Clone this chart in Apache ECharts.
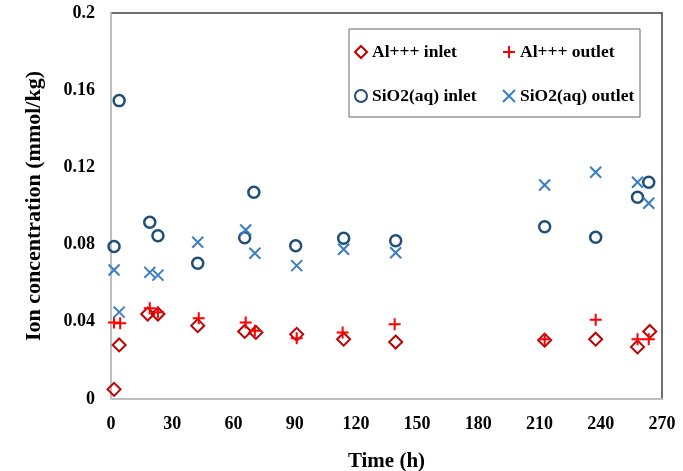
<!DOCTYPE html>
<html><head><meta charset="utf-8">
<script src="https://cdn.jsdelivr.net/npm/echarts@6/dist/echarts.min.js"></script>
<style>html,body{margin:0;padding:0;background:#fff}#c{width:683px;height:471px}</style>
</head><body><div id="c"></div>
<script>
const alInletT  = [1.5, 4, 18, 23, 42.5, 65.5, 71, 91, 114, 139.5, 212.5, 237.5, 258, 264];
const alInletV  = [0.005, 0.028, 0.044, 0.044, 0.038, 0.035, 0.0345, 0.0335, 0.031, 0.0295, 0.0305, 0.031, 0.027, 0.035];
const alOutletT = [1.5, 4.5, 19, 23, 43, 66, 70.5, 91, 113.5, 139, 212.5, 237.5, 258, 263.5];
const alOutletV = [0.0397, 0.0392, 0.047, 0.045, 0.0418, 0.0397, 0.0354, 0.0315, 0.0344, 0.0387, 0.031, 0.041, 0.031, 0.031];
const siInletT  = [1.5, 4, 19, 23, 42.5, 65.5, 70, 90.5, 114, 139.5, 212.5, 237.5, 258, 263.5];
const siInletV  = [0.079, 0.1546, 0.0916, 0.0846, 0.0703, 0.0836, 0.1071, 0.0794, 0.0833, 0.082, 0.0893, 0.0838, 0.1045, 0.1123];
const siOutletT = [1.5, 4, 19, 23, 42.5, 66, 70.5, 91, 114, 139.5, 212.5, 237.5, 258, 263.5];
const siOutletV = [0.0668, 0.045, 0.0656, 0.0642, 0.0812, 0.0876, 0.0755, 0.0691, 0.0776, 0.0758, 0.1109, 0.1175, 0.1123, 0.1014];
const seriesNames = ['Al+++ inlet', 'Al+++ outlet', 'SiO2(aq) inlet', 'SiO2(aq) outlet'];

const zip = (t, v) => t.map((x, i) => [x, v[i]]);
const FONT = '"Liberation Serif", "Times New Roman", serif';
const PLUS = 'path://M5,0L5,10M0,5L10,5';
const CROSS = 'path://M0,0L10,10M10,0L0,10';
const styles = [
  {symbol: 'diamond', size: 13, color: '#C00000', bw: 2},
  {symbol: PLUS, size: 12, color: '#FF0000', bw: 2},
  {symbol: 'circle', size: 11, color: '#1F4E79', bw: 2.5},
  {symbol: CROSS, size: 11, color: '#3A7DC4', bw: 2}
];
const datas = [zip(alInletT, alInletV), zip(alOutletT, alOutletV), zip(siInletT, siInletV), zip(siOutletT, siOutletV)];

const legendItem = i => ({
  name: seriesNames[i], icon: styles[i].symbol,
  itemStyle: {color: 'rgba(0,0,0,0)', borderColor: styles[i].color, borderWidth: 2}
});
const legendText = {fontFamily: FONT, fontWeight: 'bold', fontSize: 17.5, color: '#000'};

const chart = echarts.init(document.getElementById('c'));
chart.setOption({
  animation: false,
  grid: {left: 111, top: 13, right: 21, bottom: 72, outerBoundsMode: 'none', containLabel: false,
    show: true, borderColor: '#404040', borderWidth: 1.5, backgroundColor: 'transparent'},
  xAxis: {
    type: 'value', min: 0, max: 270, interval: 30,
    name: 'Time (h)', nameLocation: 'middle', nameGap: 52,
    nameTextStyle: {fontFamily: FONT, fontWeight: 'bold', fontSize: 21, color: '#000'},
    axisLine: {show: true, lineStyle: {color: '#D9D9D9', width: 1.5}},
    axisTick: {show: false}, splitLine: {show: false},
    axisLabel: {fontFamily: FONT, fontWeight: 'bold', fontSize: 18, color: '#000', margin: 16}
  },
  yAxis: {
    type: 'value', min: 0, max: 0.2, interval: 0.04,
    name: 'Ion concentration (mmol/kg)', nameLocation: 'middle', nameGap: 66,
    nameTextStyle: {fontFamily: FONT, fontWeight: 'bold', fontSize: 22, color: '#000'},
    axisLine: {show: true, lineStyle: {color: '#D9D9D9', width: 1.5}},
    axisTick: {show: false}, splitLine: {show: false},
    axisLabel: {fontFamily: FONT, fontWeight: 'bold', fontSize: 18, color: '#000', margin: 16,
      padding: [4, 0, 0, 0],
      formatter: v => String(+v.toFixed(2))}
  },
  legend: [
    {orient: 'vertical', left: 349, top: 38, itemWidth: 12, itemHeight: 12, itemGap: 26,
     textStyle: legendText, data: [legendItem(0), legendItem(2)]},
    {orient: 'vertical', left: 497, top: 38, itemWidth: 12, itemHeight: 12, itemGap: 26,
     textStyle: legendText, data: [legendItem(1), legendItem(3)]}
  ],
  graphic: [{type: 'rect', shape: {x: 349, y: 29, width: 291, height: 88},
    style: {fill: 'none', stroke: '#666', lineWidth: 1}, z: 100}],
  series: datas.map((d, i) => ({
    name: seriesNames[i], type: 'scatter', data: d,
    symbol: styles[i].symbol, symbolSize: styles[i].size,
    itemStyle: {color: 'rgba(0,0,0,0)', borderColor: styles[i].color, borderWidth: styles[i].bw, opacity: 1},
    emphasis: {disabled: true}
  }))
});
</script></body></html>
